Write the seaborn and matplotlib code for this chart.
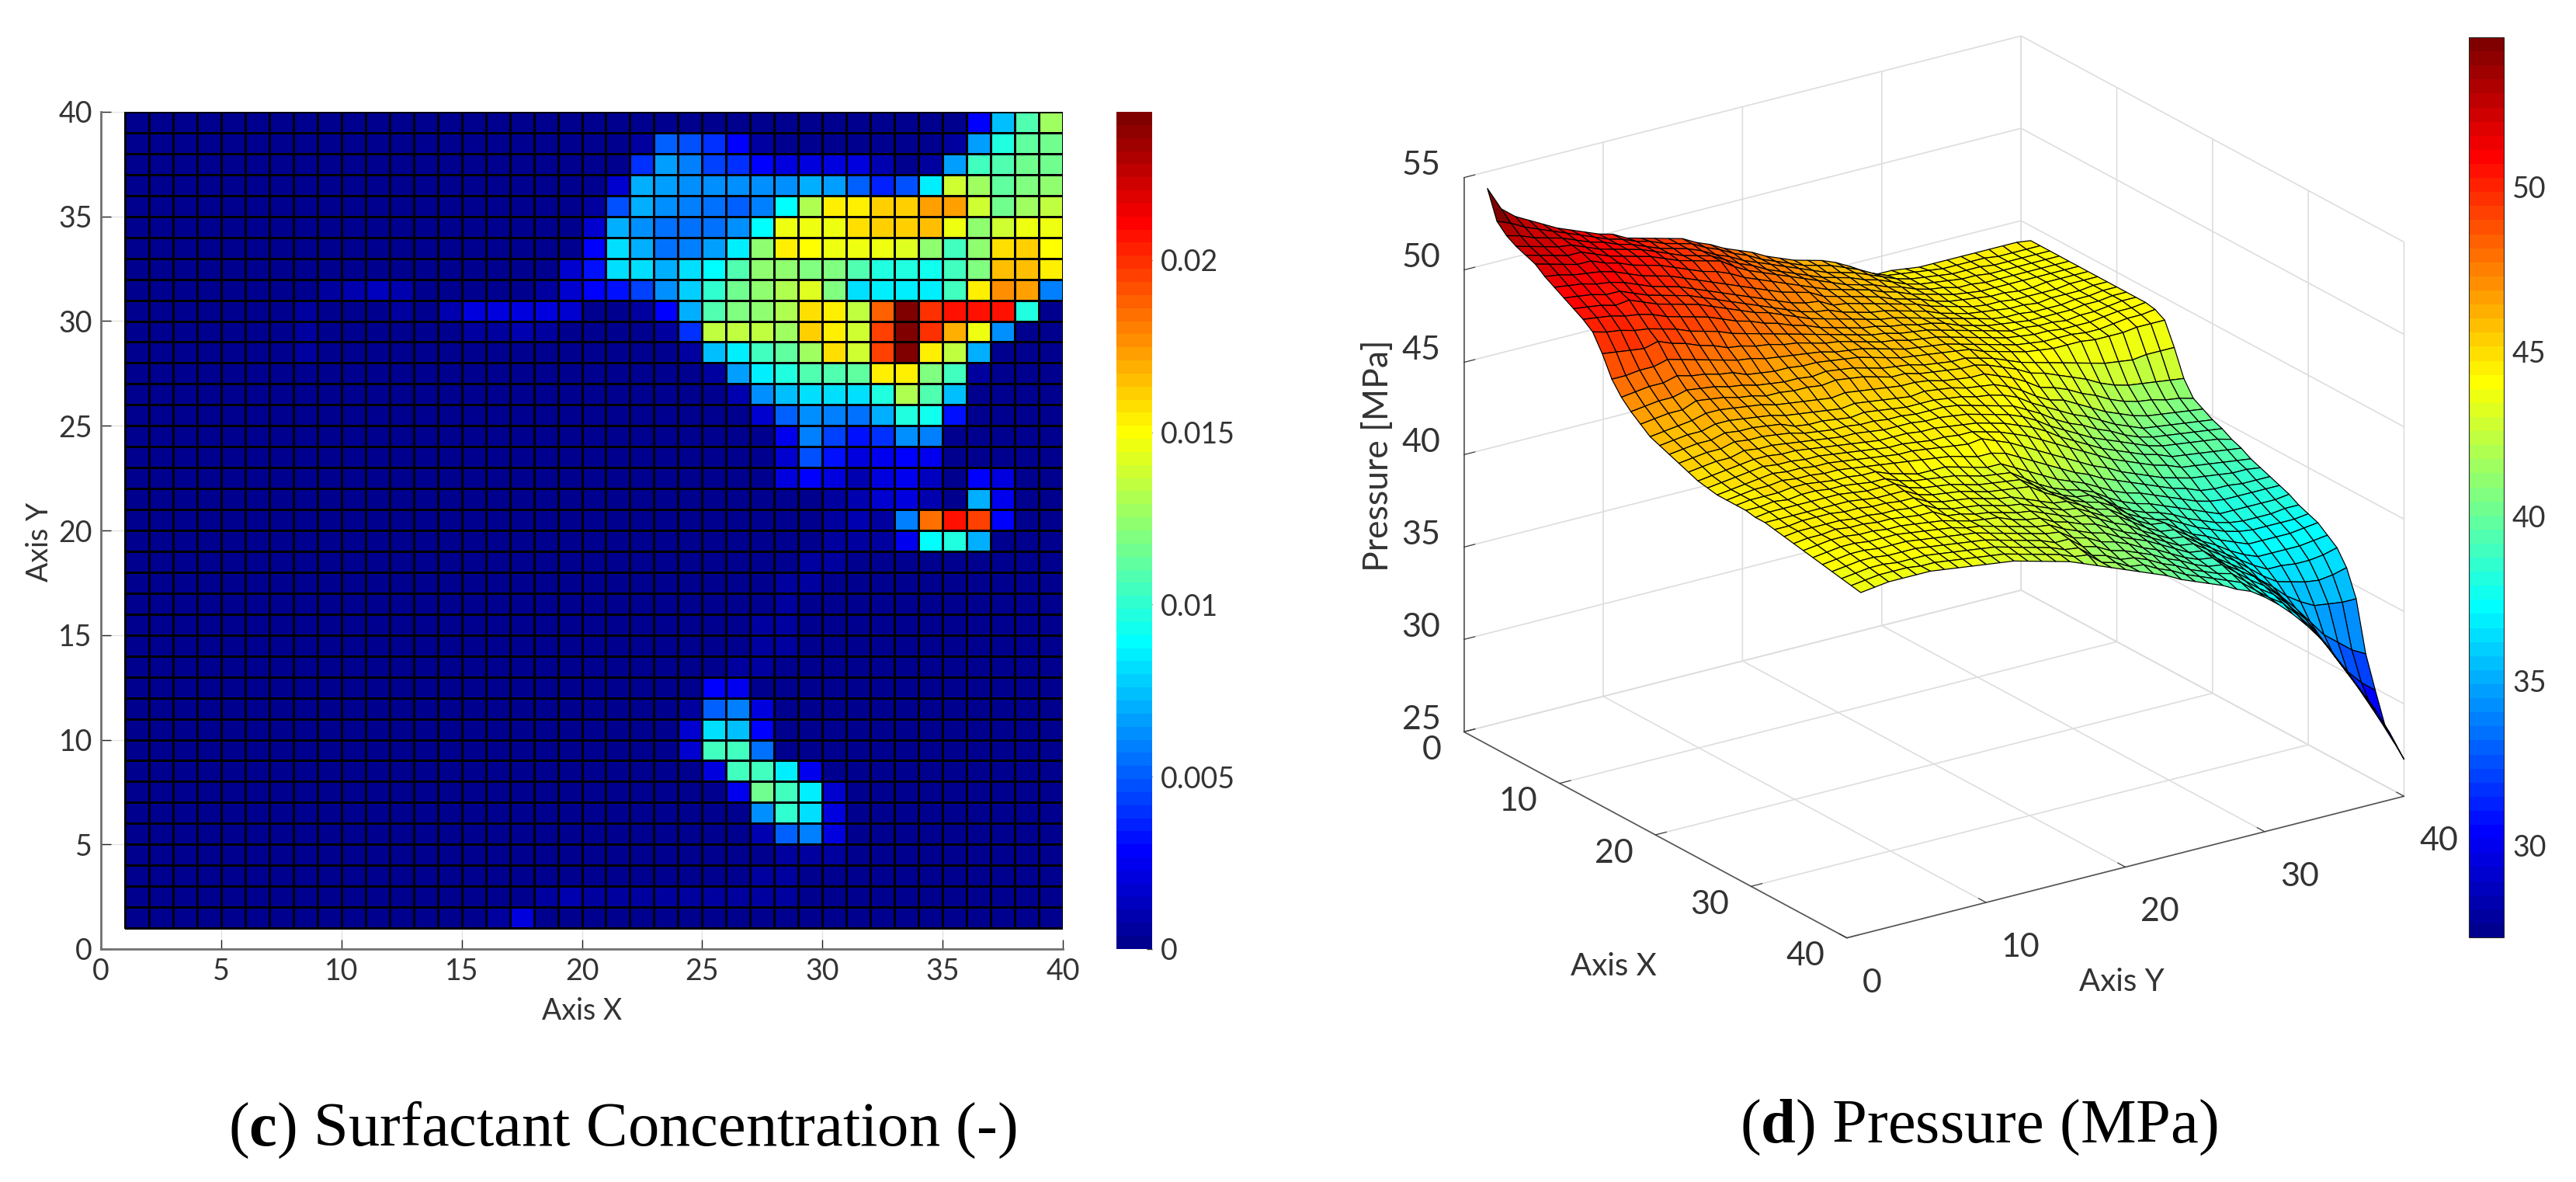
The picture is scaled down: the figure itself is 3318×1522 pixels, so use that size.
import numpy as np
import pandas as pd
import seaborn as sns
import matplotlib
matplotlib.use('Agg')
import matplotlib.pyplot as plt
from matplotlib.cm import ScalarMappable
from matplotlib.colors import LinearSegmentedColormap, Normalize
from matplotlib.transforms import Affine2D

# surfactant concentration, units of 1e-4, rows y=39 (top) to y=1, columns x=1..39
conc_rows = [
    [0]*19 + [0,0,0,3,3,1,1,1,1,1,1,1,2,2,1,1,28,75,110,128],
    [0]*19 + [0,0,4,50,48,40,28,4,1,1,1,1,1,2,2,6,65,98,111,115],
    [0]*19 + [1,2,40,67,57,43,38,28,20,20,20,20,8,3,6,65,103,110,116,116],
    [0]*19 + [2,18,72,67,62,61,61,61,61,72,65,52,37,47,87,140,128,113,120,125],
    [0]*19 + [5,48,72,61,57,56,50,57,91,131,152,152,162,161,172,174,140,116,129,134],
    [0]*19 + [18,72,63,55,56,56,61,91,148,145,148,156,163,161,165,146,125,137,145,145],
    [0]*19 + [28,80,72,55,57,65,85,125,152,150,148,148,145,141,125,105,125,156,160,149],
    [0]*18 + [18] + [32,80,80,71,80,91,107,125,125,120,120,108,96,96,92,103,120,165,167,152],
    [0]*8 + [4,8,12,9,1,1,1,1,1,7,17] + [28,32,42,61,79,100,114,125,130,141,120,83,87,87,87,105,152,175,172,59],
    [0]*7 + [4,3,3,3,4,2,8,22,22,20,20,16] + [2,2,6,28,72,110,119,125,130,158,152,134,188,243,198,207,208,208,96,2],
    [0]*7 + [6,1,1,1,1,1,2,6,6,8,5,3] + [1,1,2,4,40,133,133,133,129,160,152,140,197,243,200,170,148,61,2,1],
    [0]*7 + [6] + [0]*11 + [0,0,0,1,5,73,86,103,113,129,156,140,197,243,152,135,72,3,1,1],
    [0]*19 + [0,0,0,0,1,4,65,87,96,108,110,113,152,155,120,103,7,1,0,0],
    [0]*19 + [0,0,0,0,0,1,8,61,75,82,82,83,98,130,108,75,1,0,0,0],
    [0]*19 + [0,0,0,0,0,0,1,16,52,62,57,56,69,96,92,32,0,0,0,0],
    [0]*19 + [0,0,0,0,0,0,0,1,26,57,42,32,40,61,60,2,0,1,0,0],
    [0]*19 + [0,0,0,0,0,0,0,1,18,47,32,20,25,28,24,1,0,3,0,0],
    [0]*19 + [0]*8 + [21,28,21,11,21,25,12,1,28,20,0,0],
    [0]*19 + [0]*8 + [3,3,6,11,17,20,9,1,72,24,0,0],
    [0]*19 + [0]*8 + [0,0,4,10,5,59,185,208,196,28,0,0],
    [0]*19 + [0]*8 + [0,1,5,7,4,26,91,96,72,1,0,0],
    [0]*19 + [0]*8 + [1,5,5,2,1,2,0,0,0,0,0,0],
    [0]*19 + [0]*8 + [4,5,3] + [0]*9,
    [0]*19 + [0]*8 + [6,3,1] + [0]*9,
    [0]*19 + [0]*7 + [4,6,1] + [0]*10,
    [0]*19 + [0]*7 + [6,7] + [0]*11,
    [0]*19 + [0]*5 + [2,5,6] + [0]*12,
    [0]*19 + [0]*4 + [1,27,26,3] + [0]*12,
    [0]*19 + [0,0,1,0,4,50,57,20] + [0]*12,
    [0]*19 + [0,0,2,2,17,81,75,27] + [0]*12,
    [0]*19 + [0,0,2,2,17,106,103,55] + [0]*12,
    [0]*19 + [0,0,0,0,1,19,103,106,84,26,1] + [0]*9,
    [0]*19 + [0,0,0,0,0,0,26,116,106,84,18] + [0]*9,
    [0]*19 + [0]*7 + [61,102,82,21] + [0]*9,
    [0]*19 + [0]*7 + [11,50,60,20] + [0]*9,
    [0]*19 + [0]*6 + [1,3,6,7,5] + [0]*9,
    [0]*19 + [0]*6 + [1,4,5,2,1] + [0]*9,
    [0]*17 + [4,8] + [4,4,4,4,4,5,5,6,4,3,2,1,1,1,1,1,1,1,1,1],
    [0]*15 + [5,20,2,2] + [2,2,2,2,2,2,2,2,2,2,1,1,1,1,1,1,1,1,1,1],
]
conc_ticks = [0, 0.005, 0.01, 0.015, 0.02]
conc_tick_labels = ['0', '0.005', '0.01', '0.015', '0.02']
conc_max = 0.0243
xy_ticks = [0, 5, 10, 15, 20, 25, 30, 35, 40]

# pressure in MPa, rows y=1..40, columns x=1..40
pressure_rows = [
    [54.5,53.0,52.5,52.2,52.0,51.8,51.4,51.1,50.8,50.5,50.2,49.8,48.9,47.8,47.1,46.6,46.2,45.8,45.6,45.4,45.2,45.0,44.8,44.7,44.6,44.6,44.6,44.6,44.5,44.5,44.4,44.3,44.2,44.1,44.0,43.9,43.8,43.7,43.6,43.5],
    [53.2,52.7,52.3,52.0,51.8,51.6,51.3,51.0,50.7,50.4,50.1,49.6,48.8,47.8,47.2,46.7,46.3,45.9,45.7,45.5,45.3,45.1,44.9,44.8,44.7,44.7,44.7,44.6,44.6,44.5,44.4,44.4,44.3,44.2,44.1,44.0,43.9,43.8,43.7,43.6],
    [52.6,52.3,52.0,51.8,51.6,51.4,51.1,50.9,50.6,50.3,50.0,49.5,48.7,47.9,47.3,46.8,46.4,46.0,45.8,45.6,45.4,45.2,45.0,44.9,44.8,44.8,44.7,44.7,44.6,44.5,44.5,44.4,44.3,44.3,44.2,44.1,44.0,43.9,43.8,43.7],
    [52.2,52.0,51.8,51.6,51.4,51.2,51.0,50.7,50.4,50.1,49.8,49.3,48.6,47.9,47.3,46.8,46.4,46.1,45.8,45.6,45.4,45.2,45.1,45.0,44.9,44.8,44.7,44.6,44.6,44.5,44.5,44.4,44.4,44.3,44.2,44.1,44.0,43.9,43.8,43.7],
    [51.8,51.7,51.6,51.5,51.4,51.2,50.9,50.6,50.4,50.2,49.7,49.2,48.8,48.1,47.5,47.0,46.7,46.3,46.0,45.8,45.6,45.4,45.2,45.1,45.0,44.9,44.8,44.7,44.6,44.5,44.5,44.4,44.3,44.2,44.1,44.0,43.9,43.8,43.8,43.7],
    [51.4,51.4,51.3,51.2,51.1,50.9,50.7,50.4,50.1,49.9,49.5,49.0,48.5,47.9,47.3,46.9,46.6,46.3,46.0,45.7,45.5,45.3,45.2,45.0,44.9,44.8,44.8,44.7,44.6,44.5,44.4,44.3,44.3,44.2,44.1,44.0,43.9,43.8,43.7,43.7],
    [51.1,51.1,51.0,50.9,50.8,50.7,50.4,50.1,49.8,49.6,49.2,48.8,48.3,47.7,47.2,46.8,46.5,46.2,45.9,45.7,45.5,45.3,45.1,45.0,44.9,44.8,44.7,44.6,44.6,44.5,44.4,44.3,44.2,44.1,44.1,44.0,43.9,43.8,43.7,43.6],
    [50.8,50.8,50.8,50.7,50.6,50.4,50.1,49.8,49.6,49.4,49.0,48.5,48.0,47.5,47.0,46.6,46.3,46.1,45.8,45.6,45.4,45.2,45.1,44.9,44.8,44.7,44.6,44.6,44.5,44.4,44.3,44.2,44.2,44.1,44.0,43.9,43.8,43.7,43.6,43.5],
    [50.5,50.5,50.5,50.5,50.4,50.2,49.9,49.6,49.4,49.2,48.8,48.3,47.8,47.3,46.9,46.5,46.2,46.0,45.7,45.5,45.3,45.1,45.0,44.9,44.8,44.7,44.6,44.5,44.4,44.3,44.3,44.2,44.1,44.0,43.9,43.8,43.7,43.6,43.5,43.4],
    [50.3,50.3,50.3,50.3,50.2,50.0,49.7,49.4,49.2,49.0,48.6,48.1,47.5,47.1,46.6,46.3,46.0,45.8,45.5,45.2,45.1,45.0,44.9,44.8,44.7,44.6,44.5,44.4,44.4,44.3,44.2,44.1,44.0,43.9,43.8,43.7,43.6,43.5,43.4,43.3],
    [49.9,50.0,50.0,50.0,49.9,49.7,49.4,49.1,48.9,48.7,48.3,47.8,47.4,47.0,46.5,46.2,46.0,45.7,45.4,45.1,45.0,44.9,44.8,44.7,44.6,44.5,44.5,44.4,44.4,44.3,44.2,44.1,44.0,43.8,43.7,43.6,43.5,43.4,43.3,43.2],
    [49.7,49.8,49.7,49.7,49.6,49.4,49.1,48.8,48.6,48.4,48.0,47.6,47.2,46.8,46.4,46.1,45.9,45.6,45.3,45.1,44.9,44.8,44.7,44.6,44.5,44.4,44.2,44.1,44.0,43.9,43.8,43.7,43.6,43.6,43.5,43.5,43.4,43.3,43.2,43.1],
    [49.5,49.5,49.5,49.4,49.4,49.1,48.8,48.5,48.3,48.1,47.8,47.4,47.1,46.7,46.4,46.1,45.9,45.5,45.2,45.0,44.9,44.8,44.6,44.5,44.4,44.3,44.0,43.9,43.8,43.7,43.6,43.5,43.5,43.4,43.4,43.3,43.2,43.1,43.0,42.9],
    [49.3,49.3,49.3,49.2,49.2,48.9,48.5,48.2,48.0,47.8,47.5,47.2,46.9,46.6,46.3,46.0,45.8,45.4,45.1,44.9,44.8,44.7,44.5,44.4,44.3,44.2,43.8,43.8,43.7,43.6,43.5,43.4,43.3,43.3,43.2,43.1,43.0,42.9,42.8,42.7],
    [49.1,49.1,49.0,49.0,49.0,48.6,48.2,47.9,47.7,47.6,47.3,47.0,46.8,46.5,46.3,46.1,45.9,45.5,45.2,45.0,44.8,44.6,44.5,44.4,44.3,44.1,43.8,43.7,43.6,43.5,43.4,43.3,43.2,43.2,43.0,42.9,42.8,42.7,42.6,42.5],
    [48.7,48.7,48.6,48.6,48.5,48.2,47.9,47.6,47.4,47.3,47.0,46.8,46.6,46.4,46.2,46.0,45.8,45.4,45.1,44.9,44.7,44.6,44.5,44.3,44.2,44.0,43.8,43.6,43.4,43.3,43.2,43.1,43.0,42.9,42.8,42.7,42.6,42.5,42.4,42.3],
    [48.4,48.4,48.3,48.2,48.1,47.9,47.6,47.3,47.1,47.0,46.8,46.6,46.4,46.2,46.1,45.9,45.7,45.3,45.0,44.8,44.7,44.6,44.4,44.2,44.1,43.9,43.6,43.4,43.2,43.1,43.0,42.9,42.8,42.7,42.6,42.5,42.3,42.2,42.1,42.0],
    [48.0,48.0,47.9,47.9,47.8,47.6,47.3,47.0,46.8,46.7,46.5,46.4,46.3,46.1,46.0,45.7,45.5,45.2,44.9,44.7,44.6,44.5,44.4,44.2,44.0,43.7,43.4,43.2,43.1,43.0,42.9,42.8,42.7,42.6,42.5,42.4,42.3,42.1,42.0,41.7],
    [47.7,47.7,47.6,47.5,47.5,47.3,47.1,46.8,46.6,46.5,46.3,46.2,46.1,46.0,45.8,45.5,45.3,45.1,44.8,44.7,44.6,44.5,44.3,44.1,43.9,43.5,43.2,43.1,43.0,42.9,42.6,42.5,42.4,42.2,42.1,41.9,41.7,41.5,41.4,41.4],
    [47.4,47.3,47.3,47.2,47.2,47.0,46.9,46.7,46.5,46.3,46.1,46.0,45.9,45.8,45.6,45.4,45.3,45.1,44.9,44.7,44.6,44.4,44.2,44.1,44.0,43.5,43.2,43.0,42.9,42.8,42.3,42.2,42.1,42.0,41.8,41.7,41.5,41.3,41.2,41.1],
    [47.0,47.0,47.0,46.9,46.9,46.7,46.5,46.3,46.2,46.1,45.9,45.8,45.7,45.6,45.4,45.3,45.1,45.0,44.8,44.6,44.5,44.3,44.1,43.9,43.7,43.3,42.8,42.5,42.4,42.3,42.0,41.9,41.8,41.7,41.5,41.3,41.1,40.9,40.8,40.8],
    [46.7,46.7,46.7,46.6,46.6,46.4,46.3,46.2,46.0,45.9,45.8,45.7,45.6,45.4,45.3,45.1,45.0,44.8,44.7,44.5,44.3,44.1,43.9,43.7,43.4,42.9,42.4,42.0,41.9,41.9,41.9,41.8,41.7,41.5,41.3,41.1,40.9,40.8,40.7,40.5],
    [46.4,46.4,46.4,46.3,46.3,46.2,46.1,46.0,45.8,45.7,45.6,45.5,45.4,45.3,45.2,45.0,44.9,44.7,44.5,44.3,44.1,43.9,43.7,43.4,43.0,42.5,42.0,41.6,41.5,41.5,41.5,41.4,41.3,41.1,40.9,40.8,40.6,40.5,40.3,40.2],
    [46.2,46.2,46.1,46.1,46.0,46.0,45.9,45.8,45.7,45.6,45.5,45.4,45.3,45.2,45.1,44.9,44.8,44.6,44.4,44.2,43.9,43.7,43.4,43.1,42.6,42.1,41.6,41.3,41.2,41.2,41.1,41.0,40.9,40.7,40.6,40.4,40.3,40.1,40.0,39.8],
    [46.0,46.0,45.9,45.9,45.8,45.8,45.7,45.6,45.5,45.4,45.3,45.3,45.2,45.1,45.0,44.9,44.8,44.6,44.3,44.0,43.7,43.4,43.1,42.7,42.2,41.7,41.3,41.1,41.1,41.0,40.9,40.8,40.6,40.4,40.3,40.1,39.9,39.8,39.6,39.5],
    [45.7,45.7,45.7,45.6,45.6,45.5,45.4,45.4,45.3,45.2,45.2,45.1,45.0,44.9,44.9,44.7,44.6,44.3,44.0,43.7,43.3,43.0,42.7,42.3,41.8,41.3,41.0,40.8,40.7,40.6,40.4,40.3,40.1,40.0,39.9,39.7,39.6,39.4,39.3,39.2],
    [45.3,45.4,45.4,45.4,45.3,45.3,45.2,45.2,45.1,45.0,45.0,44.9,44.8,44.7,44.6,44.5,44.3,44.0,43.6,43.2,42.9,42.5,42.2,41.9,41.4,41.0,40.6,40.3,40.1,40.0,39.9,39.8,39.7,39.6,39.5,39.3,39.2,39.1,39.0,38.9],
    [44.8,45.0,45.1,45.1,45.1,45.0,45.0,44.9,44.8,44.8,44.7,44.7,44.6,44.5,44.4,44.2,44.0,43.6,43.1,42.8,42.4,42.1,41.8,41.5,41.0,40.6,40.2,39.9,39.7,39.6,39.5,39.4,39.3,39.2,39.1,39.0,38.9,38.8,38.7,38.5],
    [44.5,44.7,44.8,44.8,44.8,44.8,44.7,44.7,44.6,44.6,44.5,44.5,44.4,44.3,44.2,43.9,43.6,43.1,42.7,42.4,42.0,41.7,41.4,41.1,40.7,40.3,39.9,39.6,39.4,39.3,39.4,39.3,39.2,39.1,39.0,38.9,38.8,38.6,38.4,38.2],
    [44.5,44.6,44.6,44.6,44.6,44.6,44.5,44.5,44.4,44.4,44.3,44.3,44.2,44.1,44.0,43.7,43.4,42.9,42.5,42.0,41.7,41.3,41.0,40.7,40.3,40.0,39.7,39.4,39.2,39.1,38.9,38.8,38.7,38.6,38.4,38.3,38.2,38.0,37.8,37.7],
    [44.4,44.5,44.5,44.5,44.5,44.4,44.4,44.3,44.3,44.2,44.2,44.1,44.1,44.0,43.9,43.5,43.1,42.6,42.1,41.7,41.3,41.0,40.7,40.4,40.0,39.7,39.4,39.1,38.9,38.7,38.4,38.3,38.2,38.1,37.9,37.8,37.6,37.4,37.2,37.1],
    [44.3,44.4,44.4,44.4,44.3,44.3,44.3,44.2,44.2,44.1,44.1,44.1,44.0,43.9,43.8,43.3,42.8,42.2,41.7,41.3,41.0,40.7,40.4,40.1,39.7,39.4,39.1,38.8,38.5,38.3,38.1,37.9,37.7,37.6,37.4,37.3,37.1,36.9,36.7,36.4],
    [44.3,44.3,44.3,44.3,44.3,44.2,44.2,44.2,44.1,44.1,44.0,44.0,44.0,43.9,43.8,43.1,42.5,41.9,41.3,40.9,40.6,40.4,40.1,39.8,39.4,39.1,38.8,38.5,38.2,38.0,37.7,37.4,37.2,37.0,36.7,36.6,36.4,36.2,35.9,35.6],
    [44.3,44.3,44.3,44.3,44.2,44.2,44.2,44.1,44.1,44.0,44.0,44.0,43.9,43.9,43.8,42.9,42.1,41.5,41.0,40.6,40.3,40.1,39.9,39.6,39.2,38.9,38.5,38.2,37.9,37.7,37.4,37.0,36.7,36.4,36.1,35.8,35.5,35.2,35.0,34.7],
    [44.3,44.3,44.3,44.2,44.2,44.2,44.1,44.1,44.0,44.0,44.0,43.9,43.9,43.8,43.7,42.7,41.8,41.2,40.7,40.3,40.1,39.9,39.6,39.3,39.0,38.6,38.3,37.9,37.7,37.5,37.1,36.7,36.3,35.9,35.4,35.0,34.7,34.3,34.0,33.6],
    [44.3,44.3,44.2,44.2,44.2,44.2,44.1,44.1,44.1,44.0,44.0,44.0,43.9,43.8,43.7,42.6,41.6,41.0,40.5,40.2,40.0,39.8,39.5,39.2,38.9,38.5,38.2,37.9,37.6,37.4,37.1,36.7,36.3,35.7,34.9,34.1,33.6,33.2,32.8,32.4],
    [44.3,44.2,44.2,44.2,44.2,44.2,44.2,44.1,44.1,44.1,44.1,44.0,44.0,43.9,43.7,42.5,41.5,40.9,40.4,40.1,39.9,39.7,39.4,39.1,38.8,38.5,38.2,37.9,37.6,37.4,37.1,36.7,36.2,35.5,34.5,33.2,32.4,32.0,31.6,31.2],
    [44.3,44.2,44.2,44.2,44.2,44.2,44.2,44.2,44.1,44.1,44.1,44.1,44.1,44.0,43.8,42.6,41.4,40.7,40.3,40.0,39.8,39.6,39.3,39.0,38.7,38.4,38.2,37.9,37.6,37.4,37.1,36.7,36.2,35.4,34.4,32.6,31.3,30.8,30.4,30.0],
    [44.3,44.2,44.2,44.2,44.2,44.2,44.2,44.2,44.2,44.2,44.2,44.2,44.1,44.0,43.8,42.6,41.3,40.6,40.2,39.9,39.7,39.5,39.2,38.9,38.7,38.4,38.2,37.9,37.7,37.4,37.2,36.8,36.3,35.5,34.3,32.0,30.5,29.5,29.0,28.6],
    [44.2,44.2,44.2,44.2,44.2,44.2,44.2,44.2,44.2,44.2,44.2,44.2,44.2,44.1,43.8,42.6,41.2,40.4,40.1,39.8,39.6,39.3,39.1,38.8,38.6,38.4,38.2,38.0,37.7,37.5,37.3,36.9,36.5,35.7,34.3,31.6,29.9,28.3,27.6,27.0],
]
grid_xy = list(range(1, 41))
pressure_limits = (27.2, 54.55)
pressure_ticks = [30, 35, 40, 45, 50]
z_ticks = [25, 30, 35, 40, 45, 50, 55]
ten_ticks = [0, 10, 20, 30, 40]

W, H = 3318, 1522

def fig_rect(x0, y0, x1, y1):
    # pixel box, y from the top, to figure fractions
    return [x0 / W, 1 - y1 / H, (x1 - x0) / W, (y1 - y0) / H]

sns.set_style('white')
plt.rcParams['font.family'] = ['Lato', 'DejaVu Sans']
plt.rcParams['mathtext.fontset'] = 'custom'
plt.rcParams['mathtext.rm'] = 'Liberation Serif'
plt.rcParams['mathtext.bf'] = 'Liberation Serif:bold'
plt.rcParams['text.color'] = '#333333'
plt.rcParams['axes.labelcolor'] = '#333333'
plt.rcParams['xtick.color'] = '#333333'
plt.rcParams['ytick.color'] = '#333333'

# matlab jet, 64 steps
jet64 = LinearSegmentedColormap.from_list('jet64', [
    (0.0, (0, 0, 0.5625)), (7/63, (0, 0, 1)), (23/63, (0, 1, 1)),
    (39/63, (1, 1, 0)), (55/63, (1, 0, 0)), (1.0, (0.5, 0, 0))], N=64)

fig = plt.figure(figsize=(W / 100, H / 100), dpi=100)
tick_size = 27
tick_size_3d = 31

####################################################################################
# (c) heatmap
ax1 = fig.add_axes(fig_rect(130, 144, 1369, 1222))
cax1 = fig.add_axes(fig_rect(1438, 144, 1484, 1222))

conc = np.array(conc_rows, dtype=float)[::-1] / 1e4
sns.heatmap(pd.DataFrame(conc), ax=ax1, cbar_ax=cax1, cmap=jet64, vmin=0, vmax=conc_max,
            linewidths=0.85, linecolor='black', xticklabels=False, yticklabels=False,
            cbar_kws={'ticks': conc_ticks})
# cells start at 1 on both axes
ax1.collections[0].set_transform(Affine2D().translate(1, 1) + ax1.transData)
ax1.set_xlim(0, 40)
ax1.set_ylim(0, 40)
ax1.set_xticks(xy_ticks)
ax1.set_yticks(xy_ticks)
ax1.set_xticklabels([str(t) for t in xy_ticks], rotation=0)
ax1.set_yticklabels([str(t) for t in xy_ticks], rotation=0)
ax1.tick_params(direction='in', length=9, width=1, labelsize=tick_size, color='#222222', pad=8,
                left=True, bottom=True)
ax1.grid(True, color='#e2e2e2', linewidth=1)
ax1.set_axisbelow(True)
for side, spine in ax1.spines.items():
    spine.set_visible(side in ('left', 'bottom'))
    spine.set_color('#707070')
    spine.set_linewidth(2)
cax1.set_yticklabels(conc_tick_labels)
cax1.tick_params(direction='in', length=5, width=1, labelsize=tick_size, color='#333333', right=True, pad=8)

fig.text(750 / W, 1 - 1302 / H, 'Axis X', fontsize=tick_size, ha='center', va='center')
fig.text(51 / W, 1 - 698 / H, 'Axis Y', fontsize=tick_size, ha='center', va='center', rotation=90)

####################################################################################
# (d) surface
L = 1409
ax2 = fig.add_axes([(2491 - 0.5135 * L) / W, (895 - 0.5135 * L) / H, L / W, L / H], projection='3d',
                   proj_type='ortho')
ax2.view_init(elev=21.7, azim=-34.5)
ax2.set_box_aspect((1, 1, 0.882))
ax2.patch.set_alpha(0)

grid_x, grid_y = np.meshgrid(grid_xy, grid_xy)
pressure = np.array(pressure_rows)
p_norm = Normalize(*pressure_limits)
# each cell takes the colour of its first corner, like matlab surf
surf = ax2.plot_surface(grid_x, grid_y, pressure, facecolors=jet64(p_norm(pressure)),
                        rstride=1, cstride=1, linewidth=0.9, shade=False, antialiased=True)
surf.set_edgecolor('black')
ax2.set_xlim(0, 40, view_margin=0)
ax2.set_ylim(0, 40, view_margin=0)
ax2.set_zlim(25, 55, view_margin=0)
ax2.set_xticks(ten_ticks)
ax2.set_yticks(ten_ticks)
ax2.set_zticks(z_ticks)
ax2.tick_params(labelsize=tick_size_3d, colors='#333333')
ax2.tick_params(axis='x', pad=13)
ax2.tick_params(axis='y', pad=13)
ax2.tick_params(axis='z', pad=16)
ax2.zaxis.set_ticks_position('lower')
ax2.zaxis.set_label_position('lower')
for lab in ax2.get_xticklabels():
    lab.set_ha('right')
    lab.set_va('baseline')
for lab in ax2.get_yticklabels():
    lab.set_ha('left')
for lab in ax2.get_zticklabels():
    lab.set_va('baseline')
for axis in (ax2.xaxis, ax2.yaxis, ax2.zaxis):
    axis.set_pane_color((1, 1, 1, 0))
    axis.pane.set_edgecolor('#c8c8c8')
    axis.line.set_color('#555555')
    axis.line.set_linewidth(1.2)
    axis._axinfo['grid'].update(color='#dddddd', linewidth=1.2)
    axis._axinfo['tick'].update(inward_factor=0.0, outward_factor=0.25)

fig.text(2078 / W, 1 - 1245 / H, 'Axis X', fontsize=29, ha='center', va='center')
fig.text(2733 / W, 1 - 1265 / H, 'Axis Y', fontsize=29, ha='center', va='center')
fig.text(1776 / W, 1 - 587 / H, 'Pressure [MPa]', fontsize=32, ha='center', va='center', rotation=90)

cax2 = fig.add_axes(fig_rect(3180, 48, 3225, 1207))
cb2 = fig.colorbar(ScalarMappable(norm=p_norm, cmap=jet64), cax=cax2, ticks=pressure_ticks)
cb2.outline.set_linewidth(0.8)
cax2.tick_params(direction='in', length=5, width=1, labelsize=tick_size, color='#333333', pad=8)

####################################################################################
# captions
cap = {'family': 'Liberation Serif', 'fontsize': 58, 'color': 'black', 'ha': 'center', 'va': 'center'}
fig.text(802 / W, 1 - 1455 / H, r'($\mathbf{c}$) Surfactant Concentration (-)', **cap)
fig.text(2549 / W, 1 - 1452 / H, r'($\mathbf{d}$) Pressure (MPa)', **cap)

fig.savefig('out.png', dpi=100, facecolor='white')
